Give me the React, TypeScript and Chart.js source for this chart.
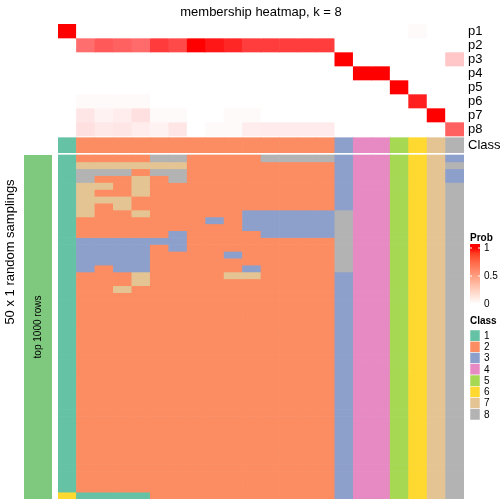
import React, { useEffect, useRef } from "react";
import { Chart, registerables } from "chart.js";

Chart.register(...registerables);

// ---------------- data ----------------
const columns = [
  "s1", "s2", "s3", "s4", "s5", "s6", "s7", "s8", "s9", "s10", "s11",
  "s12", "s13", "s14", "s15", "s16", "s17", "s18", "s19", "s20", "s21", "s22",
];

const memberLabels = ["p1", "p2", "p3", "p4", "p5", "p6", "p7", "p8"];

const p1 = [1, 0, 0, 0, 0, 0, 0, 0, 0, 0, 0, 0, 0, 0, 0, 0, 0, 0, 0, 0.02, 0, 0];
const p2 = [0, 0.57, 0.65, 0.62, 0.58, 0.77, 0.71, 1, 0.91, 0.85, 0.76, 0.76, 0.76, 0.76, 0.76, 0, 0, 0, 0, 0, 0, 0];
const p3 = [0, 0, 0, 0, 0, 0, 0, 0, 0, 0, 0, 0, 0, 0, 0, 1, 0, 0, 0, 0, 0, 0.22];
const p4 = [0, 0, 0, 0, 0, 0, 0, 0, 0, 0, 0, 0, 0, 0, 0, 0, 1, 1, 0, 0, 0, 0];
const p5 = [0, 0, 0, 0, 0, 0, 0, 0, 0, 0, 0, 0, 0, 0, 0, 0, 0, 0, 1, 0, 0, 0];
const p6 = [0, 0.02, 0.02, 0.02, 0.02, 0, 0, 0, 0, 0, 0, 0, 0, 0, 0, 0, 0, 0, 0, 0.88, 0, 0];
const p7 = [0, 0.1, 0.05, 0.07, 0.12, 0.02, 0.02, 0, 0, 0.02, 0.02, 0, 0, 0, 0, 0, 0, 0, 0, 0, 1, 0];
const p8 = [0, 0.12, 0.09, 0.1, 0.07, 0.05, 0.1, 0, 0.02, 0.02, 0.07, 0.08, 0.08, 0.08, 0.08, 0, 0, 0, 0, 0, 0, 0.62];

const sampleClass = [1, 2, 2, 2, 2, 2, 2, 2, 2, 2, 2, 2, 2, 2, 2, 3, 4, 4, 5, 6, 7, 8];

// each string: class of the 22 samples in one random sampling
const samplings = [
  "1222288222288883445673",
  "1777777222222223445678",
  "1888288222222223445673",
  "1822728222222223445673",
  "1772722222222223445678",
  "1722722222222223445678",
  "1777222222222223445678",
  "1727222222222223445678",
  "1722722222333338445678",
  "1222222232333338445678",
  "1222222222333338445678",
  "1222223222233338445678",
  "1333333222222228445678",
  "1333323222222228445678",
  "1333322223222228445678",
  "1333322222222228445678",
  "1323322222322228445678",
  "1222722227722223445678",
  "1222722222222223445678",
  "1227222222222223445678",
  "1222222222222223445678",
  "1222222222222223445678",
  "1222222222222223445678",
  "1222222222222223445678",
  "1222222222222223445678",
  "1222222222222223445678",
  "1222222222222223445678",
  "1222222222222223445678",
  "1222222222222223445678",
  "1222222222222223445678",
  "1222222222222223445678",
  "1222222222222223445678",
  "1222222222222223445678",
  "1222222222222223445678",
  "1222222222222223445678",
  "1222222222222223445678",
  "1222222222222223445678",
  "1222222222222223445678",
  "1222222222222223445678",
  "1222222222222223445678",
  "1222222222222223445678",
  "1222222222222223445678",
  "1222222222222223445678",
  "1222222222222223445678",
  "1222222222222223445678",
  "1222222222222223445678",
  "1222222222222223445678",
  "1222222222222223445678",
  "1222222222222223445678",
  "6111122222222223445678",
];

const classLabels = ["1", "2", "3", "4", "5", "6", "7", "8"];
const classColors = ["#66C2A5", "#FC8D62", "#8DA0CB", "#E78AC3", "#A6D854", "#FFD92F", "#E5C494", "#B3B3B3"];
const probTickValues = [1, 0.5, 0];
const probTickLabels = ["1", "0.5", "0"];

const titleText = "membership heatmap, k = 8";
const rowTitleText = "50 x 1 random samplings";
const rowAnnoText = "top 1000 rows";
const classRowLabel = "Class";

// ---------------- layout constants ----------------
const MEMBER_ROW_H = 14;
const CLASS_TOP = 113.7;
const CLASS_BOT = 128.7;
const MAIN_TOP = 131;
const MAIN_ROW_H = 6.88;
const Y_MAX = 475;
const FONT = "'Liberation Sans', Arial, Helvetica, sans-serif";
const SAMPLING_COLOR = "#7FC97F";

function probColor(v: number): string {
  const c = Math.round(255 * (1 - v));
  return `rgb(255,${c},${c})`;
}

// LAB interpolation white -> red for the legend gradient
function toLin(c: number) {
  c /= 255;
  return c <= 0.04045 ? c / 12.92 : Math.pow((c + 0.055) / 1.055, 2.4);
}
function fromLin(c: number) {
  const v = c <= 0.0031308 ? 12.92 * c : 1.055 * Math.pow(c, 1 / 2.4) - 0.055;
  return Math.max(0, Math.min(255, Math.round(v * 255)));
}
function rgbToLab(r: number, g: number, b: number) {
  const R = toLin(r), G = toLin(g), B = toLin(b);
  const X = (0.4124 * R + 0.3576 * G + 0.1805 * B) / 0.95047;
  const Y = 0.2126 * R + 0.7152 * G + 0.0722 * B;
  const Z = (0.0193 * R + 0.1192 * G + 0.9505 * B) / 1.08883;
  const f = (t: number) => (t > 0.008856 ? Math.cbrt(t) : 7.787 * t + 16 / 116);
  const fx = f(X), fy = f(Y), fz = f(Z);
  return [116 * fy - 16, 500 * (fx - fy), 200 * (fy - fz)];
}
function labToRgb(L: number, a: number, b: number) {
  const fy = (L + 16) / 116;
  const fx = fy + a / 500;
  const fz = fy - b / 200;
  const inv = (t: number) => (t * t * t > 0.008856 ? t * t * t : (t - 16 / 116) / 7.787);
  const X = inv(fx) * 0.95047, Y = inv(fy), Z = inv(fz) * 1.08883;
  const R = 3.2406 * X - 1.5372 * Y - 0.4986 * Z;
  const G = -0.9689 * X + 1.8758 * Y + 0.0415 * Z;
  const B = 0.0557 * X - 0.204 * Y + 1.057 * Z;
  return `rgb(${fromLin(R)},${fromLin(G)},${fromLin(B)})`;
}
const LAB_W = rgbToLab(255, 255, 255);
const LAB_R = rgbToLab(255, 0, 0);
function labColor(v: number) {
  return labToRgb(
    LAB_W[0] + (LAB_R[0] - LAB_W[0]) * v,
    LAB_W[1] + (LAB_R[1] - LAB_W[1]) * v,
    LAB_W[2] + (LAB_R[2] - LAB_W[2]) * v
  );
}

function buildDatasets() {
  const ds: any[] = [];
  const memberRows = [p1, p2, p3, p4, p5, p6, p7, p8];
  memberRows.forEach((vals, i) => {
    ds.push({
      label: memberLabels[i],
      data: vals.map(() => [i * MEMBER_ROW_H, (i + 1) * MEMBER_ROW_H]),
      backgroundColor: vals.map(probColor),
    });
  });
  ds.push({
    label: classRowLabel,
    data: sampleClass.map(() => [CLASS_TOP, CLASS_BOT]),
    backgroundColor: sampleClass.map((c) => classColors[c - 1]),
  });
  samplings.forEach((row, j) => {
    const cls = row.split("").map((ch) => parseInt(ch, 10));
    ds.push({
      label: "sampling " + (j + 1),
      data: cls.map(() => [MAIN_TOP + j * MAIN_ROW_H, MAIN_TOP + (j + 1) * MAIN_ROW_H]),
      backgroundColor: cls.map((c) => classColors[c - 1]),
    });
  });
  return ds.map((d) => ({
    ...d,
    grouped: false,
    categoryPercentage: 1,
    barPercentage: 1,
    borderWidth: 0,
    borderSkipped: false,
  }));
}

const decorPlugin = {
  id: "decor",
  afterDraw(chart: any) {
    const ctx = chart.ctx as CanvasRenderingContext2D;
    const y = chart.scales.y;
    const area = chart.chartArea;
    ctx.save();

    // sampling annotation bar
    const mt = y.getPixelForValue(MAIN_TOP);
    const mb = y.getPixelForValue(MAIN_TOP + samplings.length * MAIN_ROW_H);
    ctx.fillStyle = SAMPLING_COLOR;
    ctx.fillRect(24, mt, 28, mb - mt);

    ctx.fillStyle = "#000";
    // title
    ctx.font = `13px ${FONT}`;
    ctx.textAlign = "center";
    ctx.textBaseline = "alphabetic";
    ctx.fillText(titleText, (area.left + area.right) / 2, 15.5);

    // row labels
    ctx.textAlign = "left";
    ctx.textBaseline = "middle";
    memberLabels.forEach((lab, i) => {
      ctx.fillText(lab, 468, y.getPixelForValue((i + 0.5) * MEMBER_ROW_H));
    });
    ctx.fillText(classRowLabel, 468, y.getPixelForValue((CLASS_TOP + CLASS_BOT) / 2));

    // row title
    ctx.save();
    ctx.translate(10, 252);
    ctx.rotate(-Math.PI / 2);
    ctx.textAlign = "center";
    ctx.textBaseline = "middle";
    ctx.font = `13px ${FONT}`;
    ctx.fillText(rowTitleText, 0, 0);
    ctx.restore();

    ctx.save();
    ctx.translate(38.5, (mt + mb) / 2);
    ctx.rotate(-Math.PI / 2);
    ctx.textAlign = "center";
    ctx.textBaseline = "middle";
    ctx.font = `10px ${FONT}`;
    ctx.fillText(rowAnnoText, 0, 0);
    ctx.restore();

    // Prob legend
    const lx = 470, lw = 10;
    const p0 = 304, pH = 56;
    ctx.font = `bold 10px ${FONT}`;
    ctx.textAlign = "left";
    ctx.textBaseline = "middle";
    ctx.fillText("Prob", lx, 238.5);
    const grad = ctx.createLinearGradient(0, p0, 0, p0 - pH);
    for (let k = 0; k <= 10; k++) grad.addColorStop(k / 10, labColor(k / 10));
    ctx.fillStyle = grad;
    ctx.fillRect(lx, 244, lw, 62);
    ctx.strokeStyle = "#fff";
    ctx.lineWidth = 1;
    probTickValues.forEach((v) => {
      const ty = p0 - v * pH;
      ctx.beginPath();
      ctx.moveTo(lx, ty);
      ctx.lineTo(lx + 2, ty);
      ctx.moveTo(lx + lw - 2, ty);
      ctx.lineTo(lx + lw, ty);
      ctx.stroke();
    });
    ctx.fillStyle = "#000";
    ctx.font = `10px ${FONT}`;
    probTickValues.forEach((v, k) => {
      ctx.fillText(probTickLabels[k], lx + 14, p0 - v * pH);
    });

    // Class legend
    ctx.font = `bold 10px ${FONT}`;
    ctx.fillText("Class", lx, 321.5);
    const bh = 11.25;
    classLabels.forEach((lab, k) => {
      const by = 330 + k * bh;
      ctx.fillStyle = classColors[k];
      ctx.fillRect(lx, by, lw, bh);
      ctx.strokeStyle = "#fff";
      ctx.lineWidth = 0.5;
      ctx.strokeRect(lx, by, lw, bh);
      ctx.fillStyle = "#000";
      ctx.font = `10px ${FONT}`;
      ctx.fillText(lab, lx + 14, by + bh / 2 + 0.5);
    });

    ctx.restore();
  },
};

export default function App() {
  const ref = useRef<HTMLCanvasElement | null>(null);
  useEffect(() => {
    if (!ref.current) return;
    const chart = new Chart(ref.current, {
      type: "bar",
      data: { labels: columns, datasets: buildDatasets() as any },
      options: {
        animation: false,
        responsive: false,
        devicePixelRatio: 1,
        indexAxis: "x",
        layout: { padding: { left: 58, right: 40, top: 24, bottom: 5 } },
        scales: {
          x: { type: "category", display: false, offset: true, grid: { display: false } },
          y: { type: "linear", display: false, min: 0, max: Y_MAX, reverse: true },
        },
        plugins: { legend: { display: false }, tooltip: { enabled: false }, title: { display: false } },
      } as any,
      plugins: [decorPlugin],
    });
    return () => chart.destroy();
  }, []);
  return (
    <div style={{ position: "absolute", left: 0, top: 0, width: 504, height: 504, background: "#fff" }}>
      <canvas ref={ref} width={504} height={504} style={{ width: 504, height: 504 }} />
    </div>
  );
}
